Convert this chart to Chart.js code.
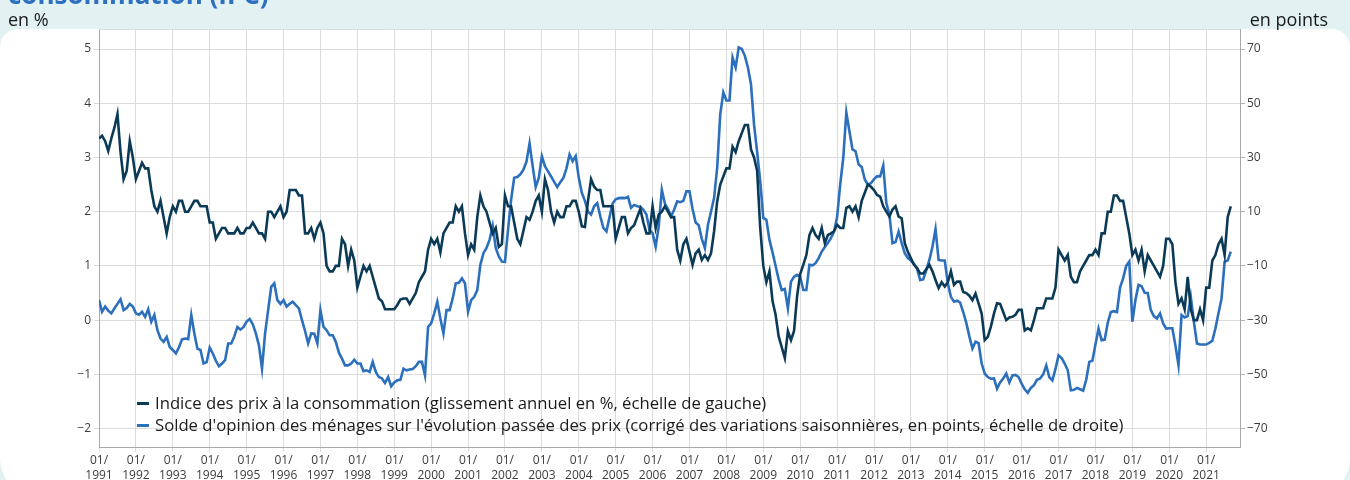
<!DOCTYPE html>
<html lang="fr">
<head>
<meta charset="utf-8">
<title>IPC et opinion des ménages</title>
<script src="https://cdn.jsdelivr.net/npm/chart.js@4.4.1/dist/chart.umd.min.js"></script>
<style>
  html, body { margin: 0; padding: 0; }
  body { width: 1350px; height: 480px; background: #e2f1f1; position: relative; overflow: hidden;
         font-family: 'Open Sans', 'Noto Sans', sans-serif; }
  #panel { position: absolute; left: 0; top: 29px; width: 1350px; height: 470px; background: #ffffff;
           border-radius: 18px 18px 41px 41px; }
  #wrap { position: absolute; left: 0; top: 0; width: 1350px; height: 480px; }
  #title { position: absolute; left: 8px; top: -22px; font-size: 26px; line-height: 32px; font-weight: 700;
           color: #2d6fc0; white-space: nowrap; }
  #unitL { position: absolute; left: 8px; top: 8px; font-size: 18px; line-height: 22px; color: #1a1a1a; }
  #unitR { position: absolute; right: 22px; top: 8px; font-size: 18px; line-height: 22px; color: #1a1a1a; }
  #legend { position: absolute; left: 137px; top: 392px; font-size: 16.7px; line-height: 22px; color: #1a1a1a; }
  #legend .item { white-space: nowrap; display: flex; align-items: center; }
  #legend .sw { display: inline-block; width: 12px; height: 3px; margin-right: 6px; }
</style>
</head>
<body>
<div id="panel"></div>
<div id="wrap"><canvas id="c" width="1350" height="480"></canvas></div>
<div id="title">consommation (IPC)</div>
<div id="unitL">en %</div>
<div id="unitR">en points</div>
<div id="legend">
  <div class="item"><span class="sw" style="background:#0b3a57"></span>Indice des prix à la consommation (glissement annuel en %, échelle de gauche)</div>
  <div class="item"><span class="sw" style="background:#2c6fbd"></span>Solde d'opinion des ménages sur l'évolution passée des prix (corrigé des variations saisonnières, en points, échelle de droite)</div>
</div>
<script>
// ---- Data (monthly, from 01/1991) ----
const startYear = 1991;
const years = [1991,1992,1993,1994,1995,1996,1997,1998,1999,2000,2001,2002,2003,2004,2005,2006,2007,2008,2009,2010,2011,2012,2013,2014,2015,2016,2017,2018,2019,2020,2021];
const leftTicks = [-2, -1, 0, 1, 2, 3, 4, 5];
const rightTicks = [-70, -50, -30, -10, 10, 30, 50, 70];

const ipc = [
  3.35, 3.4, 3.3, 3.12, 3.35, 3.55, 3.8, 3.1, 2.6, 2.75, 3.3, 3.0,
  2.6, 2.75, 2.9, 2.8, 2.8, 2.4, 2.1, 2.0, 2.2, 1.9, 1.6, 1.9,
  2.1, 2.0, 2.2, 2.2, 2.0, 2.0, 2.1, 2.2, 2.2, 2.1, 2.1, 2.1,
  1.8, 1.8, 1.5, 1.6, 1.7, 1.7, 1.6, 1.6, 1.6, 1.7, 1.6, 1.6,
  1.7, 1.7, 1.8, 1.7, 1.6, 1.6, 1.5, 2.0, 2.0, 1.9, 2.0, 2.1,
  1.9, 2.0, 2.4, 2.4, 2.4, 2.3, 2.3, 1.6, 1.6, 1.7, 1.5, 1.7,
  1.8, 1.6, 1.0, 0.9, 0.9, 1.0, 1.0, 1.5, 1.4, 1.0, 1.3, 1.1,
  0.6, 0.8, 1.0, 0.9, 1.0, 0.8, 0.6, 0.4, 0.35, 0.2, 0.2, 0.2,
  0.2, 0.28, 0.38, 0.4, 0.4, 0.3, 0.4, 0.5, 0.7, 0.8, 0.9, 1.3,
  1.5, 1.4, 1.5, 1.25, 1.6, 1.7, 1.8, 1.8, 2.1, 2.0, 2.1, 1.6,
  1.2, 1.4, 1.3, 1.9, 2.3, 2.1, 2.0, 1.8, 1.6, 1.7, 1.35, 1.4,
  2.3, 2.1, 2.1, 1.8, 1.5, 1.4, 1.65, 1.9, 1.85, 2.0, 2.2, 2.3,
  2.0, 2.6, 2.4, 2.0, 1.8, 2.0, 1.9, 1.9, 2.1, 2.1, 2.2, 2.2,
  2.0, 1.73, 1.72, 2.2, 2.6, 2.46, 2.4, 2.4, 2.1, 2.1, 2.1, 2.1,
  1.5, 1.7, 1.9, 1.9, 1.6, 1.7, 1.75, 1.9, 2.05, 1.8, 1.6, 1.6,
  2.1, 1.7, 1.95, 2.0, 2.1, 2.0, 1.9, 1.9, 1.3, 1.1, 1.4, 1.5,
  1.26, 1.02, 1.23, 1.3, 1.11, 1.2, 1.11, 1.23, 1.64, 2.19, 2.5, 2.65,
  2.8, 2.8, 3.2, 3.1, 3.3, 3.45, 3.6, 3.6, 3.15, 3.0, 2.75, 1.7,
  1.0, 0.7, 0.9, 0.35, 0.1, -0.3, -0.5, -0.7, -0.2, -0.37, -0.2, 0.45,
  0.85, 1.02, 1.2, 1.57, 1.7, 1.57, 1.5, 1.7, 1.42, 1.57, 1.6, 1.64,
  1.76, 1.7, 1.7, 2.07, 2.1, 2.0, 2.1, 1.9, 2.2, 2.35, 2.5, 2.46,
  2.4, 2.31, 2.28, 2.1, 2.0, 1.91, 2.04, 2.1, 1.91, 1.88, 1.42, 1.26,
  1.14, 1.02, 0.96, 0.86, 0.86, 0.94, 1.02, 0.9, 0.74, 0.59, 0.7, 0.62,
  0.7, 0.9, 0.65, 0.71, 0.71, 0.52, 0.5, 0.45, 0.37, 0.49, 0.31, 0.12,
  -0.37, -0.31, -0.12, 0.12, 0.31, 0.3, 0.15, 0.0, 0.05, 0.06, 0.1, 0.19,
  0.19, -0.19, -0.15, -0.19, 0.0, 0.22, 0.22, 0.22, 0.4, 0.4, 0.4, 0.6,
  1.3, 1.2, 1.1, 1.2, 0.8, 0.7, 0.7, 0.9, 1.0, 1.1, 1.2, 1.2,
  1.3, 1.2, 1.6, 1.6, 2.0, 2.0, 2.3, 2.3, 2.2, 2.2, 1.9, 1.6,
  1.2, 1.3, 1.1, 1.3, 0.9, 1.2, 1.1, 1.0, 0.9, 0.8, 1.0, 1.5,
  1.5, 1.4, 0.7, 0.3, 0.4, 0.2, 0.8, 0.2, 0.0, 0.0, 0.2, 0.0,
  0.6, 0.6, 1.1, 1.2, 1.4, 1.5, 1.2, 1.9, 2.1
];

const opinion = [
  -22.6, -26.9, -25, -26.5, -27.5, -25.7, -24, -22.3, -26.3, -25.5, -24, -25,
  -27.5, -28, -26.9, -28.8, -26, -30.6, -28.1, -33.7, -36.8, -38, -36.2, -39.9,
  -41, -42.3, -40, -37.1, -36.8, -37, -28.1, -34.9, -40.5, -41, -46, -45.5,
  -40.1, -42.3, -45, -47, -46, -44.8, -38.6, -38.6, -36, -32.5, -33.5, -32.5,
  -30.5, -29.6, -31.5, -34.9, -39.3, -47.9, -34.9, -26.3, -17.7, -16.4, -22.6, -24,
  -22.6, -25, -24, -23.2, -24.5, -25.7, -30, -34, -38.6, -34.9, -35, -38.6,
  -26.3, -32.5, -33.7, -35.6, -35.6, -38, -42, -44.2, -46.7, -46.7, -46, -44.6,
  -46, -46, -48.8, -48.5, -49.1, -45.4, -49.1, -51, -51.5, -53.2, -51, -54.4,
  -53, -52.2, -52, -47.9, -48.5, -48.2, -48, -47, -45.4, -45.4, -50.4, -32.5,
  -31.2, -27.5, -23.2, -29.4, -34.9, -26.3, -26.3, -22, -16.4, -16.2, -14.6, -16.4,
  -26.9, -22.6, -21.4, -18.9, -9.6, -5.3, -3.4, -0.4, 4.8, -3.4, -6.5, -8.4,
  -8.5, 3.3, 14.4, 22.5, 22.8, 23.8, 25.5, 28.5, 35.2, 26.8, 19.1, 22.5,
  30.5, 26.8, 24.9, 23, 21, 19.1, 20.9, 22.5, 26, 31.1, 28.6, 30.5,
  22.5, 16.9, 14, 10, 9, 12, 13.2, 8.3, 4, 2.7, 8, 13,
  14.6, 15, 15.1, 15, 15.5, 11.4, 12.5, 12, 11.8, 10.7, 9, 3.3,
  2.1, -2.9, 4.6, 18.1, 13, 11, 8.3, 10.7, 13.8, 13.5, 14, 17.5,
  17.5, 11, 6, 5, 0, -3.4, 5.2, 10, 15.1, 26.2, 45.9, 54,
  51, 51, 66.9, 63.2, 70.6, 70, 67.5, 63.2, 57, 42, 32, 21.2,
  7.7, 7, -0.4, -5, -10, -15, -18.9, -18.5, -25.7, -15.8, -14, -13.3,
  -14, -18.9, -18.9, -9.6, -9.8, -9, -7.1, -4.7, -3, -1.5, 0.3, 2.7,
  8, 20, 29.9, 46.6, 39.7, 33, 32.3, 27.4, 26.5, 21.9, 20, 20.5,
  22, 23.1, 23, 27, 13.2, 9, -1.6, -1.2, 2.7, -1.6, -5.3, -7.1,
  -8, -9.2, -11, -15.2, -15, -11.5, -7.8, -2.9, 3.6, -7.8, -8, -8,
  -16.4, -21.4, -23.2, -22.8, -23.5, -27, -31, -36, -40.5, -38, -38.5, -46,
  -49.7, -51, -51.6, -51.5, -55.3, -53, -51.5, -49.7, -53, -50.4, -50.2, -51,
  -53.4, -55.5, -56.8, -55, -54, -52, -51.5, -50, -46.7, -51, -52.2, -48,
  -43, -44, -46, -48.5, -55.9, -55.7, -55, -55.5, -56, -52, -45.4, -45,
  -39, -33.1, -37.4, -37.2, -31, -27, -26.7, -27, -18, -14.6, -10, -8.4,
  -30.6, -22.6, -17, -17.5, -19.9, -20, -26.3, -28.5, -29.4, -27.5, -31.2, -33.1,
  -33, -33, -39.3, -46.7, -28.1, -29, -28.5, -21.4, -30.6, -38.6, -39, -39,
  -39, -38.4, -37.6, -33.1, -27.5, -22, -8.4, -8, -4.7
];

// ---- Chart ----
const FONT = "'Open Sans', 'Noto Sans', sans-serif";
const TICK_COLOR = '#3c3c3c';
const GRID = '#dcdcdc';
const AXIS = '#a8a8a8';
const fmt = v => String(v).replace('-', '\u2212');

const topBorder = {
  id: 'topBorder',
  beforeDatasetsDraw(chart) {
    const { ctx, chartArea: a } = chart;
    ctx.save();
    ctx.strokeStyle = GRID;
    ctx.lineWidth = 1;
    ctx.beginPath();
    ctx.moveTo(a.left, Math.round(a.top) + 0.5);
    ctx.lineTo(a.right, Math.round(a.top) + 0.5);
    ctx.stroke();
    ctx.restore();
  }
};

new Chart(document.getElementById('c'), {
  type: 'line',
  data: {
    datasets: [
      {
        label: 'Indice des prix à la consommation (glissement annuel en %, échelle de gauche)',
        data: ipc.map((v, i) => ({ x: i, y: v })),
        yAxisID: 'y',
        borderColor: '#0b3a57',
        borderWidth: 2.6,
        pointRadius: 0,
        tension: 0,
        fill: false
      },
      {
        label: "Solde d'opinion des ménages sur l'évolution passée des prix (corrigé des variations saisonnières, en points, échelle de droite)",
        data: opinion.map((v, i) => ({ x: i, y: v })),
        yAxisID: 'y2',
        borderColor: '#2c6fbd',
        borderWidth: 2.6,
        pointRadius: 0,
        tension: 0,
        fill: false
      }
    ]
  },
  options: {
    responsive: false,
    maintainAspectRatio: false,
    animation: false,
    layout: { padding: { top: 29, left: 0, right: 0, bottom: 0 } },
    plugins: { legend: { display: false }, tooltip: { enabled: false } },
    scales: {
      x: {
        type: 'linear',
        min: 0,
        max: 371,
        afterBuildTicks: s => { s.ticks = years.map((y, k) => ({ value: k * 12 })); },
        afterFit: s => { s.height = 33; },
        grid: { color: GRID, lineWidth: 1, tickLength: 5 },
        border: { color: AXIS, width: 1 },
        ticks: {
          autoSkip: false, maxRotation: 0, minRotation: 0, padding: 1,
          color: TICK_COLOR,
          font: { family: FONT, size: 12, lineHeight: 1.25 },
          callback: v => ['01/', String(years[Math.round(v / 12)])]
        }
      },
      y: {
        position: 'left',
        min: -2.34,
        max: 5.37,
        afterBuildTicks: s => { s.ticks = leftTicks.map(v => ({ value: v })); },
        afterFit: s => { s.width = 99; },
        grid: { color: GRID, lineWidth: 1, tickLength: 5 },
        border: { color: AXIS, width: 1 },
        ticks: {
          color: TICK_COLOR, padding: 3,
          font: { family: FONT, size: 12 },
          callback: v => fmt(v)
        }
      },
      y2: {
        position: 'right',
        min: -76.8,
        max: 77.4,
        afterBuildTicks: s => { s.ticks = rightTicks.map(v => ({ value: v })); },
        afterFit: s => { s.width = 110; },
        grid: { drawOnChartArea: false, color: '#b4b4b4', lineWidth: 1, tickLength: 5 },
        border: { color: AXIS, width: 1 },
        ticks: {
          color: TICK_COLOR, padding: 2,
          font: { family: FONT, size: 12 },
          callback: v => fmt(v)
        }
      }
    }
  },
  plugins: [topBorder]
});
</script>
</body>
</html>
